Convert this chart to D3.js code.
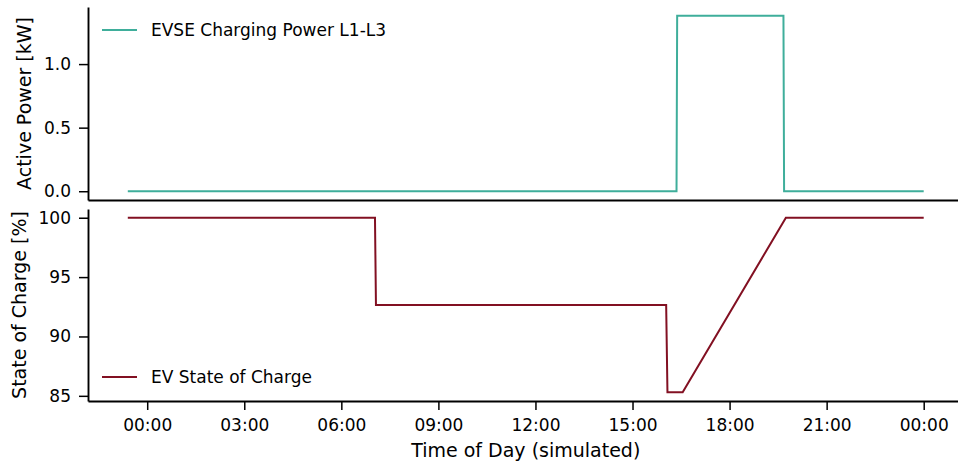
<!DOCTYPE html>
<html>
<head>
<meta charset="utf-8">
<script src="https://cdn.jsdelivr.net/npm/d3@7"></script>
<style>
  html, body { margin: 0; padding: 0; background: #fff; }
  svg { display: block; font-family: "DejaVu Sans", sans-serif; }
</style>
</head>
<body>
<svg id="chart" width="958" height="465"></svg>
<script>
// Simulated day: hours relative to midnight (negative = previous evening)
const powerHours = [-0.6, 16.36, 16.38, 19.665, 19.685, 24.0];
const powerKW    = [0, 0, 1.38, 1.38, 0, 0];

const socHours = [-0.6, 7.04, 7.07, 16.04, 16.08, 16.55, 19.74, 24.0];
const socPct   = [100, 100, 92.65, 92.65, 85.3, 85.3, 100, 100];

const timeTicks      = [0, 3, 6, 9, 12, 15, 18, 21, 24];
const timeTickLabels = ["00:00", "03:00", "06:00", "09:00", "12:00", "15:00", "18:00", "21:00", "00:00"];
const powerTicks = [0, 0.5, 1.0];
const socTicks   = [85, 90, 95, 100];

const powerColor = "#3fae9b";
const socColor   = "#821022";

const svg = d3.select("#chart");

const left = 88, right = 963.5;
const top1 = 7, bottom1 = 200;
const top2 = 209, bottom2 = 401;

// matplotlib-style 5% padding around the data extent
function padded(ext) {
  const p = (ext[1] - ext[0]) * 0.05;
  return [ext[0] - p, ext[1] + p];
}

const x = d3.scaleLinear()
  .domain(padded(d3.extent(socHours.concat(powerHours))))
  .range([left, right]);

const yP = d3.scaleLinear().domain(padded(d3.extent(powerKW))).range([bottom1, top1]);
const yS = d3.scaleLinear().domain(padded(d3.extent(socPct))).range([bottom2, top2]);

function styleAxis(g) {
  g.select(".domain").attr("stroke", "#000").attr("stroke-width", 1.9);
  g.selectAll(".tick line").attr("stroke", "#000").attr("stroke-width", 1.5);
  g.selectAll(".tick text").attr("fill", "#000").style("font-size", "17px")
    .style("font-family", "DejaVu Sans");
}

// top panel: power
svg.append("g").attr("transform", `translate(0,${bottom1})`)
  .call(d3.axisBottom(x).tickValues([]).tickSizeOuter(0))
  .call(styleAxis);
svg.append("g").attr("transform", `translate(${left},0)`)
  .call(d3.axisLeft(yP).tickValues(powerTicks).tickFormat(d3.format(".1f"))
    .tickSize(9).tickPadding(8).tickSizeOuter(0))
  .call(styleAxis);

// bottom panel: state of charge
svg.append("g").attr("transform", `translate(0,${bottom2})`)
  .call(d3.axisBottom(x).tickValues(timeTicks)
    .tickFormat((d, i) => timeTickLabels[i])
    .tickSize(9).tickPadding(9).tickSizeOuter(0))
  .call(styleAxis);
svg.append("g").attr("transform", `translate(${left},0)`)
  .call(d3.axisLeft(yS).tickValues(socTicks).tickFormat(d3.format("d"))
    .tickSize(9).tickPadding(8).tickSizeOuter(0))
  .call(styleAxis);

const powerLine = d3.line().x((d, i) => x(powerHours[i])).y(d => yP(d));
svg.append("path").datum(powerKW)
  .attr("d", powerLine).attr("fill", "none")
  .attr("stroke", powerColor).attr("stroke-width", 2);

const socLine = d3.line().x((d, i) => x(socHours[i])).y(d => yS(d));
svg.append("path").datum(socPct)
  .attr("d", socLine).attr("fill", "none")
  .attr("stroke", socColor).attr("stroke-width", 2);

// axis titles
svg.append("text").attr("transform", `translate(31,${(top1 + bottom1) / 2}) rotate(-90)`)
  .attr("text-anchor", "middle").style("font-size", "19px").text("Active Power [kW]");
svg.append("text").attr("transform", `translate(26,${(top2 + bottom2) / 2}) rotate(-90)`)
  .attr("text-anchor", "middle").style("font-size", "19px").text("State of Charge [%]");
svg.append("text").attr("x", (left + right) / 2).attr("y", 457)
  .attr("text-anchor", "middle").style("font-size", "19px").text("Time of Day (simulated)");

// legends
function legend(y, color, label) {
  const g = svg.append("g");
  g.append("line").attr("x1", 102).attr("x2", 137).attr("y1", y).attr("y2", y)
    .attr("stroke", color).attr("stroke-width", 2);
  g.append("text").attr("x", 151).attr("y", y).attr("dy", "0.35em")
    .style("font-size", "17px").text(label);
}
legend(30, powerColor, "EVSE Charging Power L1-L3");
legend(377, socColor, "EV State of Charge");
</script>
</body>
</html>
